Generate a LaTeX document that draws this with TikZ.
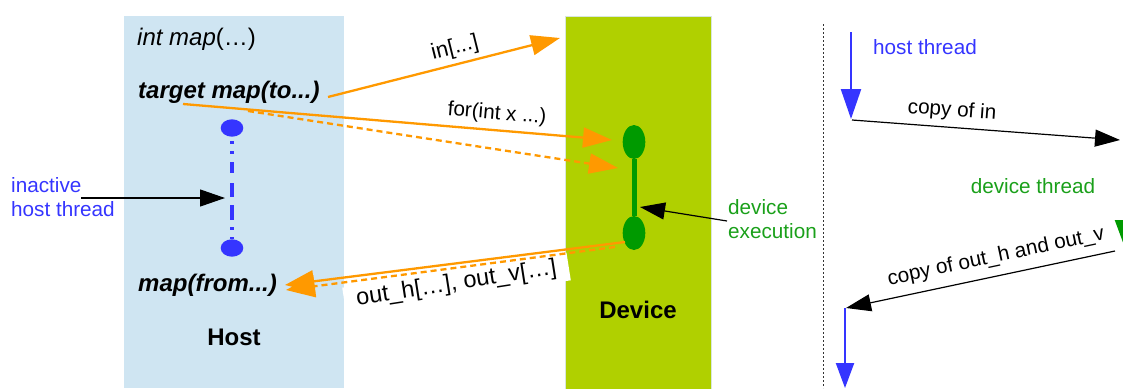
\documentclass[tikz,border=0pt]{standalone}
\usepackage{fontspec}
\setmainfont{Liberation Sans}
\usetikzlibrary{arrows.meta,shapes.geometric}
\definecolor{hostbg}{HTML}{CFE5F2}
\definecolor{devbg}{HTML}{B0D000}
\definecolor{devedge}{HTML}{D8E6DC}
\definecolor{thrblue}{HTML}{3535FF}
\definecolor{execgreen}{HTML}{009A00}
\definecolor{txtgreen}{HTML}{1AA01A}
\definecolor{xfer}{HTML}{FF9900}
\tikzset{
  lbl/.style={font=\fontsize{20.7}{24}\selectfont, inner sep=0pt},
  biglbl/.style={font=\fontsize{24}{28}\selectfont, inner sep=0pt},
  region/.style={anchor=north west, inner sep=0pt, minimum width=#1},
  xferline/.style={xfer, line width=2.3pt, -{Triangle[length=29pt,width=20pt]}},
  xferdash/.style={xferline, dash pattern=on 6pt off 4pt},
  plainarrow/.style={black, line width=1.2pt, -{Triangle[length=25pt,width=17pt]}},
  threadarrow/.style={thrblue, line width=2.3pt},
  blob/.style={ellipse, inner sep=0pt, minimum width=22.6pt}
}
\begin{document}
\begin{tikzpicture}[x=1pt,y=-1pt]
\useasboundingbox (0,0) rectangle (1123,388);

% the two execution spaces
\node[region=220pt, minimum height=372pt, fill=hostbg] (hostbox) at (124,16) {};
\node[region=145.5pt, minimum height=373pt, fill=devbg, draw=devedge, line width=0.8pt] (devbox) at (565,16) {};

% host side code
\node[biglbl, anchor=west] (intmap) at (137,39) {\textit{int map}(…)};
\node[biglbl, anchor=west] (tgtmap) at (138,92) {\textbf{\textit{target map(to...)}}};
\node[biglbl, anchor=west] (frommap) at (138,285) {\textbf{\textit{map(from...)}}};
\node[biglbl] (hostlbl) at (234,337) {\textbf{Host}};
\node[biglbl] (devlbl) at (638,310) {\textbf{Device}};

% suspended host thread
\node[blob, fill=thrblue, minimum height=17.4pt] (h1) at (232,128) {};
\node[blob, fill=thrblue, minimum height=17.4pt] (h2) at (232,248) {};
\draw[thrblue, line width=4.7pt, shorten <=4.3pt,
  dash pattern=on 3pt off 7pt on 3pt off 8pt on 11pt off 10pt on 14pt off 8pt on 15pt off 7pt on 3pt off 7pt on 3pt off 30pt]
  (h1) -- (h2);
\node[lbl, text=thrblue, align=left, anchor=west] (inact) at (11,197) {inactive\\host thread};
\coordinate (inactTail) at (81,198);
\coordinate (inactTip) at (225,198);
\draw[plainarrow] (inactTail) -- (inactTip);

% device thread
\node[blob, fill=execgreen, minimum height=34pt] (d1) at (634,142) {};
\node[blob, fill=execgreen, minimum height=34pt] (d2) at (634,233) {};
\draw[execgreen, line width=5pt] (d1) -- (d2);
\node[lbl, text=txtgreen, align=left, anchor=west] (devexec) at (728,219) {device\\execution};
\coordinate (execTail) at (727,221);
\coordinate (execTip) at (640,207);
\draw[plainarrow] (execTail) -- (execTip);

% transfers host -> device
\coordinate (inStart) at (328,97);
\coordinate (inEnd) at (560,38);
\draw[xferline] (inStart) -- (inEnd);
\node[font=\fontsize{22}{26}\selectfont, inner sep=0pt, rotate=14] (inlbl) at (455,48) {in[...]};

\coordinate (forStart) at (183,104);
\coordinate (forEnd) at (612,140);
\draw[xferline] (forStart) -- (forEnd);
\node[lbl, rotate=-4.8] (forlbl) at (497,114) {for(int x ...)};

\coordinate (dashStart) at (248,111);
\coordinate (dashEnd) at (618,168);
\draw[xferdash] (dashStart) -- (dashEnd);

% transfers device -> host
\node[font=\fontsize{23.5}{27}\selectfont, inner sep=0pt, fill=white, rotate=8.9,
  minimum width=227pt, minimum height=28pt] (outlbl) at (456.5,284) {out\_h[…], out\_v[…]};
\coordinate (retStart) at (625,242);
\coordinate (retEnd) at (285,285);
\coordinate (retDashStart) at (615,247);
\coordinate (retDashEnd) at (286,290);
\draw[xferdash, -{Triangle[length=29pt,width=22pt]}] (retDashStart) -- (retDashEnd);
\draw[xferline, -{Triangle[length=29pt,width=22pt]}] (retStart) -- (retEnd);

% separator
\coordinate (sepTop) at (823,24);
\coordinate (sepBot) at (823,388);
\draw[black!80, line width=1pt, dash pattern=on 2pt off 2pt] (sepTop) -- (sepBot);

% timeline legend
\coordinate (hA) at (851,32);
\coordinate (hB) at (851,119);
\draw[threadarrow, -{Triangle[length=30pt,width=20pt]}] (hA) -- (hB);
\node[lbl, text=thrblue] (hostthr) at (925,47) {host thread};
\coordinate (cinA) at (852,120);
\coordinate (cinB) at (1120,140);
\draw[plainarrow] (cinA) -- (cinB);
\node[lbl, rotate=-4.3] (cinlbl) at (952,111) {copy of in};
\node[lbl, text=txtgreen] (devthr) at (1033,186) {device thread};
\coordinate (gA) at (1125,190);
\coordinate (gB) at (1125,248);
\draw[execgreen, line width=2.3pt, -{Triangle[length=28pt,width=20pt]}] (gA) -- (gB);
\coordinate (coutA) at (1115,251);
\coordinate (coutB) at (846,308);
\draw[plainarrow] (coutA) -- (coutB);
\node[lbl, rotate=12] (coutlbl) at (996,257) {copy of out\_h and out\_v};
\coordinate (h2A) at (845,308);
\coordinate (h2B) at (845,388);
\draw[threadarrow, -{Triangle[length=25pt,width=18pt]}] (h2A) -- (h2B);
\end{tikzpicture}
\end{document}
